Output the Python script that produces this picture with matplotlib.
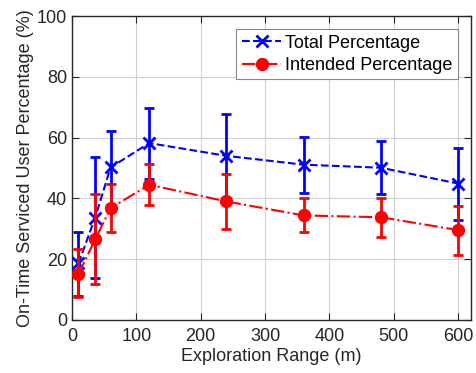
import numpy as np
import matplotlib.pyplot as plt
from matplotlib.lines import Line2D

plt.rcParams['font.family'] = ['Liberation Sans', 'DejaVu Sans']

x = [10, 36, 60, 120, 240, 360, 480, 600]
total = [18.6, 33.7, 50.2, 58.2, 54.0, 51.1, 50.1, 44.9]
total_lo = [8.0, 13.7, 37.8, 46.5, 40.0, 41.9, 41.4, 32.9]
total_hi = [28.8, 53.7, 62.3, 69.8, 67.9, 60.3, 58.9, 56.7]
intended = [15.1, 26.5, 36.8, 44.5, 39.0, 34.4, 33.8, 29.6]
intended_lo = [7.5, 11.8, 29.0, 37.9, 29.9, 28.8, 27.3, 21.4]
intended_hi = [23.2, 41.6, 44.7, 51.4, 48.1, 40.2, 40.1, 37.6]

tc = '#262626'
fig = plt.figure(figsize=(4.76, 3.73), dpi=100)
ax = fig.add_axes([0.1513, 0.1421, 0.8392, 0.8149])

t = np.array(total)
i = np.array(intended)
ax.errorbar(x, t, yerr=[t - np.array(total_lo), np.array(total_hi) - t],
            color='blue', ls='--', lw=1.5, marker='x', ms=8, mew=2,
            capsize=3.5, capthick=2, elinewidth=2, zorder=3)
ax.errorbar(x, i, yerr=[i - np.array(intended_lo), np.array(intended_hi) - i],
            color='red', ls='-.', lw=1.5, marker='o', ms=8.6,
            capsize=3.5, capthick=2, elinewidth=2, zorder=4)

ax.set_xlim(0, 621)
ax.set_ylim(0, 100)
ax.set_xticks([0, 100, 200, 300, 400, 500, 600])
ax.set_yticks([0, 20, 40, 60, 80, 100])
ax.grid(True, color='#d0d0d0', lw=0.8)
ax.set_axisbelow(True)
ax.tick_params(direction='in', length=5, colors=tc, labelsize=13, top=True, right=True)
ax.tick_params(axis='x', pad=6)
for s in ax.spines.values():
    s.set_color(tc)
    s.set_linewidth(1.0)
ax.set_xlabel('Exploration Range (m)', fontsize=13, color=tc, labelpad=2)
ax.set_ylabel('On-Time Serviced User Percentage (%)', fontsize=13, color=tc, labelpad=2)

handles = [
    Line2D([], [], color='blue', ls='--', lw=1.5, marker='x', ms=8, mew=2),
    Line2D([], [], color='red', ls='-.', lw=1.5, marker='o', ms=8.6),
]
leg = ax.legend(handles, ['Total Percentage', 'Intended Percentage'],
                loc='upper right', bbox_to_anchor=(0.966, 0.957), fontsize=13,
                fancybox=False, framealpha=1, edgecolor='#888888',
                handlelength=2.2, borderpad=0.3, labelspacing=0.3,
                handletextpad=0.2, borderaxespad=0.0)
leg.get_frame().set_linewidth(0.8)

fig.savefig('out.png', dpi=100)
